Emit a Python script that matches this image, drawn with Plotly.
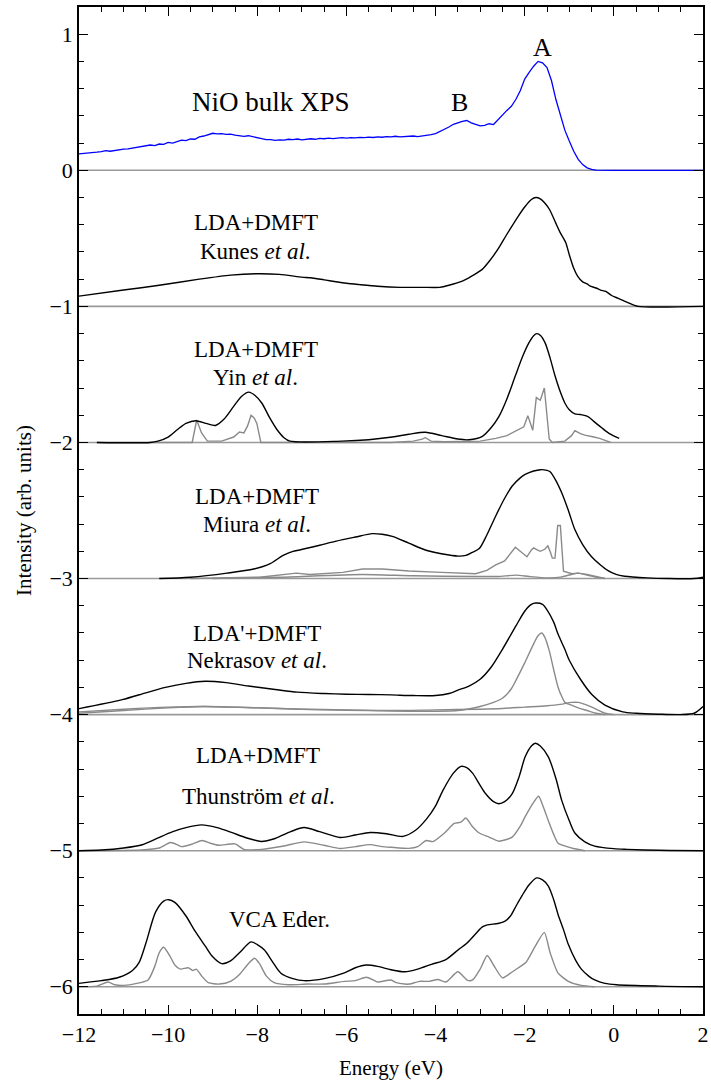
import plotly.graph_objects as go

# ---------------- data (relative intensities, each panel offset by -n) ----------------
offsets = [0, -1, -2, -3, -4, -5, -6]

xps_e = [-12.0, -11.9, -11.8, -11.7, -11.6, -11.5, -11.4, -11.3, -11.2, -11.1,
         -11.0, -10.9, -10.8, -10.7, -10.6, -10.5, -10.4, -10.3, -10.2, -10.1,
         -10.0, -9.9, -9.8, -9.7, -9.6, -9.5, -9.4, -9.3, -9.2, -9.1,
         -9.0, -8.9, -8.8, -8.7, -8.6, -8.5, -8.4, -8.3, -8.2, -8.1,
         -8.0, -7.9, -7.8, -7.7, -7.6, -7.5, -7.4, -7.3, -7.2, -7.1,
         -7.0, -6.9, -6.8, -6.7, -6.6, -6.5, -6.4, -6.3, -6.2, -6.1,
         -6.0, -5.9, -5.8, -5.7, -5.6, -5.5, -5.4, -5.3, -5.2, -5.1,
         -5.0, -4.9, -4.8, -4.7, -4.6, -4.5, -4.4, -4.3, -4.2, -4.1,
         -4.0, -3.9, -3.8, -3.7, -3.6, -3.5, -3.4, -3.3, -3.2, -3.1,
         -3.0, -2.9, -2.8, -2.7, -2.6, -2.5, -2.4, -2.3, -2.2, -2.1,
         -2.0, -1.9, -1.8, -1.7, -1.6, -1.5, -1.4, -1.3, -1.2, -1.1,
         -1.0, -0.9, -0.8, -0.7, -0.6, -0.5, -0.4, -0.3, 0.0, 1.0, 2.0]
xps_i = [0.120, 0.122, 0.128, 0.126, 0.133, 0.137, 0.145, 0.140, 0.146, 0.150,
         0.155, 0.158, 0.164, 0.170, 0.172, 0.180, 0.186, 0.182, 0.193, 0.190,
         0.205, 0.200, 0.213, 0.222, 0.218, 0.230, 0.228, 0.246, 0.252, 0.262,
         0.272, 0.268, 0.270, 0.264, 0.266, 0.258, 0.256, 0.250, 0.254, 0.245,
         0.240, 0.232, 0.225, 0.226, 0.220, 0.224, 0.222, 0.228, 0.226, 0.230,
         0.224, 0.229, 0.232, 0.228, 0.234, 0.232, 0.236, 0.233, 0.237, 0.240,
         0.236, 0.240, 0.238, 0.242, 0.240, 0.244, 0.241, 0.245, 0.243, 0.248,
         0.246, 0.250, 0.245, 0.248, 0.246, 0.252, 0.248, 0.251, 0.255, 0.262,
         0.270, 0.285, 0.298, 0.318, 0.338, 0.352, 0.360, 0.366, 0.348, 0.338,
         0.326, 0.330, 0.342, 0.336, 0.372, 0.405, 0.440, 0.470, 0.520, 0.585,
         0.670, 0.720, 0.765, 0.800, 0.790, 0.755, 0.660, 0.520, 0.400, 0.295,
         0.215, 0.140, 0.080, 0.042, 0.018, 0.006, 0.001, 0.0, 0.0, 0.0, 0.0]

kunes_e = [-12, -11, -10.2, -9.3, -8.6, -8.0, -7.5, -7.0, -6.8, -6.5, -6.0, -5.7, -5.3,
           -4.8, -4.3, -3.9, -3.7, -3.4, -3.2, -2.96, -2.8, -2.6, -2.4, -2.15, -2.0,
           -1.85, -1.75, -1.65, -1.55, -1.44, -1.3, -1.2, -1.08, -1.0, -0.9, -0.81,
           -0.7, -0.6, -0.54, -0.4, -0.3, -0.18, -0.05, 0.09, 0.3, 0.54, 2.0]
kunes_i = [0.075, 0.12, 0.155, 0.20, 0.23, 0.24, 0.235, 0.215, 0.21, 0.195, 0.17, 0.16, 0.148,
           0.14, 0.14, 0.14, 0.155, 0.185, 0.22, 0.27, 0.33, 0.42, 0.53, 0.66, 0.73,
           0.785, 0.80, 0.79, 0.76, 0.71, 0.61, 0.54, 0.47, 0.38, 0.28, 0.22,
           0.18, 0.165, 0.15, 0.135, 0.12, 0.11, 0.08, 0.06, 0.03, 0.0, 0.0]

yin_e = [-11.6, -10.4, -10.23, -10.0, -9.79, -9.6, -9.38, -9.15, -8.94, -8.75, -8.53, -8.35,
         -8.19, -8.05, -7.9, -7.72, -7.56, -7.4, -7.27, -6.1, -5.5, -4.97, -4.6, -4.23,
         -3.86, -3.5, -3.25, -2.95, -2.75, -2.58, -2.4, -2.21, -2.05, -1.91, -1.8, -1.73,
         -1.64, -1.54, -1.43, -1.32, -1.2, -1.1, -1.0, -0.875, -0.75, -0.58, -0.45, -0.28,
         -0.1, 0.12]
yin_i = [0.0, 0.0, 0.01, 0.04, 0.095, 0.14, 0.16, 0.14, 0.125, 0.17, 0.265, 0.34,
         0.37, 0.345, 0.29, 0.18, 0.095, 0.035, 0.01, 0.01, 0.02, 0.04, 0.06, 0.075,
         0.05, 0.025, 0.02, 0.045, 0.11, 0.19, 0.32, 0.49, 0.63, 0.73, 0.785, 0.80,
         0.785, 0.73, 0.62, 0.49, 0.37, 0.29, 0.24, 0.21, 0.205, 0.19, 0.155, 0.11,
         0.065, 0.03]
yin_g_e = [-11.6, -9.46, -9.36, -9.25, -9.12, -8.8, -8.53, -8.4, -8.3, -8.22, -8.14, -8.07,
           -8.01, -7.95, -7.92, -5.0, -4.5, -4.3, -4.23, -4.1, -3.8, -3.0, -2.65, -2.4,
           -2.21, -2.02, -1.93, -1.82, -1.74, -1.65, -1.56, -1.45, -1.38, -1.1, -0.95,
           -0.875, -0.75, -0.65, -0.45, -0.32, -0.15, -0.07]
yin_g_i = [0.0, 0.0, 0.165, 0.07, 0.01, 0.01, 0.04, 0.077, 0.07, 0.12, 0.20, 0.18,
           0.14, 0.05, 0.0, 0.0, 0.01, 0.025, 0.035, 0.01, 0.005, 0.01, 0.03, 0.05,
           0.08, 0.115, 0.197, 0.09, 0.33, 0.31, 0.40, 0.025, 0.0, 0.01, 0.05,
           0.087, 0.065, 0.054, 0.04, 0.03, 0.01, 0.0]

miura_e = [-10.2, -9.5, -8.68, -8.08, -7.71, -7.42, -7.2, -7.05, -6.6, -6.23, -5.8, -5.42,
           -5.2, -4.97, -4.6, -4.23, -3.84, -3.49, -3.32, -3.19, -3.02, -2.85, -2.65, -2.45,
           -2.28, -2.1, -1.99, -1.8, -1.65, -1.5, -1.43, -1.3, -1.17, -1.02, -0.875, -0.7,
           -0.5, -0.3, -0.14, 0.05, 0.24, 0.75, 1.2, 1.8, 2.0]
miura_i = [0.0, 0.01, 0.04, 0.07, 0.11, 0.17, 0.20, 0.21, 0.245, 0.275, 0.305, 0.33,
           0.325, 0.31, 0.26, 0.21, 0.18, 0.165, 0.17, 0.19, 0.22, 0.32, 0.46, 0.59,
           0.68, 0.74, 0.765, 0.79, 0.80, 0.795, 0.785, 0.72, 0.63, 0.50, 0.36, 0.25,
           0.16, 0.10, 0.06, 0.03, 0.017, 0.005, 0.0, 0.0, 0.01]
miura_g1_e = [-9.5, -7.95, -7.12, -6.82, -6.08, -5.64, -5.19, -4.6, -3.86, -3.1, -2.85, -2.65,
              -2.45, -2.3, -2.21, -2.1, -1.95, -1.85, -1.8, -1.72, -1.65, -1.55, -1.48, -1.42,
              -1.38, -1.32, -1.28, -1.26, -1.2, -1.16, -1.13, -0.94, -0.8, -0.6, -0.43, -0.2]
miura_g1_i = [0.0, 0.01, 0.04, 0.03, 0.045, 0.07, 0.07, 0.055, 0.045, 0.035, 0.06, 0.10,
              0.13, 0.19, 0.23, 0.20, 0.16, 0.21, 0.225, 0.21, 0.20, 0.215, 0.24, 0.19,
              0.15, 0.15, 0.30, 0.39, 0.39, 0.20, 0.054, 0.035, 0.04, 0.03, 0.017, 0.0]
miura_g2_e = [-9.0, -7.5, -5.64, -4.5, -3.12, -2.6, -2.2, -1.9, -1.5, -1.2, -0.95, -0.8,
              -0.6, -0.4, -0.2]
miura_g2_i = [0.0, 0.01, 0.03, 0.02, 0.015, 0.015, 0.025, 0.015, 0.005, 0.01, 0.03, 0.04,
              0.025, 0.01, 0.0]

nek_e = [-12, -11.03, -10.5, -10.06, -9.6, -9.17, -8.7, -8.2, -7.6, -7.1, -6.5, -6.0, -5.5,
         -5.0, -4.5, -4.0, -3.7, -3.5, -3.25, -3.0, -2.75, -2.5, -2.2, -2.0, -1.85, -1.75,
         -1.6, -1.5, -1.35, -1.25, -1.1, -1.0, -0.75, -0.5, -0.2, 0.2, 0.5, 1.0, 1.5, 1.8, 2.0]
nek_i = [0.044, 0.11, 0.16, 0.20, 0.23, 0.245, 0.235, 0.21, 0.185, 0.165, 0.155, 0.15, 0.148,
         0.145, 0.14, 0.14, 0.155, 0.18, 0.21, 0.26, 0.35, 0.48, 0.65, 0.76, 0.81, 0.82,
         0.81, 0.77, 0.68, 0.59, 0.48, 0.40, 0.26, 0.15, 0.07, 0.02, 0.01, 0.003, 0.0, 0.01, 0.06]
nek_g1_e = [-12, -11, -10, -9.2, -8.5, -7.5, -6.5, -5.5, -4.5, -3.5, -3.0, -2.7, -2.5, -2.3,
            -2.2, -2.0, -1.8, -1.7, -1.62, -1.55, -1.45, -1.35, -1.25, -1.15, -1.1, -0.95,
            -0.8, -0.6, -0.4, -0.2]
nek_g1_i = [0.01, 0.03, 0.05, 0.06, 0.055, 0.045, 0.035, 0.03, 0.025, 0.03, 0.06, 0.09, 0.12,
            0.19, 0.25, 0.38, 0.52, 0.58, 0.60, 0.57, 0.47, 0.33, 0.20, 0.12, 0.09, 0.07,
            0.05, 0.03, 0.01, 0.0]
nek_g2_e = [-12, -11, -10, -9.2, -8, -7, -6, -5, -4, -3, -2.5, -2, -1.5, -1.2, -0.95, -0.8,
            -0.6, -0.4, -0.2, 0.0]
nek_g2_i = [0.02, 0.04, 0.055, 0.06, 0.05, 0.04, 0.035, 0.03, 0.035, 0.04, 0.045, 0.055,
            0.065, 0.075, 0.09, 0.09, 0.07, 0.04, 0.01, 0.0]

thu_e = [-12, -11.5, -11, -10.58, -10.25, -9.91, -9.6, -9.25, -8.9, -8.58, -8.25, -7.91,
         -7.6, -7.25, -6.95, -6.6, -6.14, -5.8, -5.47, -5.1, -4.73, -4.45, -4.21, -4.0,
         -3.84, -3.6, -3.43, -3.3, -3.17, -3.0, -2.88, -2.7, -2.58, -2.45, -2.28, -2.12,
         -1.99, -1.85, -1.76, -1.65, -1.47, -1.3, -1.17, -1.0, -0.875, -0.65, -0.43, 0.0,
         0.3, 1.0, 2.0]
thu_i = [0.0, 0.005, 0.02, 0.044, 0.09, 0.138, 0.17, 0.19, 0.17, 0.135, 0.095, 0.068,
         0.09, 0.14, 0.17, 0.14, 0.097, 0.115, 0.134, 0.125, 0.105, 0.15, 0.23, 0.33,
         0.44, 0.57, 0.62, 0.61, 0.57, 0.48, 0.42, 0.36, 0.345, 0.36, 0.42, 0.55,
         0.69, 0.77, 0.79, 0.77, 0.69, 0.53, 0.37, 0.22, 0.13, 0.065, 0.034, 0.015,
         0.01, 0.003, 0.0]
thu_g_e = [-12, -10.6, -10.2, -9.95, -9.8, -9.7, -9.45, -9.24, -9.05, -8.87, -8.5, -8.3,
           -7.9, -7.4, -6.95, -6.5, -6.14, -5.8, -5.47, -5.2, -5.0, -4.6, -4.4, -4.21,
           -4.06, -3.8, -3.58, -3.43, -3.32, -3.18, -3.02, -2.8, -2.58, -2.28, -2.1, -1.99,
           -1.85, -1.69, -1.58, -1.47, -1.35, -1.25, -0.95, -0.65]
thu_g_i = [0.0, 0.005, 0.02, 0.06, 0.045, 0.03, 0.05, 0.075, 0.055, 0.04, 0.05, 0.01,
           0.01, 0.035, 0.065, 0.04, 0.016, 0.03, 0.045, 0.03, 0.025, 0.017, 0.03, 0.075,
           0.067, 0.13, 0.20, 0.21, 0.24, 0.18, 0.13, 0.10, 0.07, 0.10, 0.18, 0.25,
           0.33, 0.40, 0.32, 0.22, 0.12, 0.055, 0.02, 0.0]

eder_e = [-12, -11.5, -11.1, -10.8, -10.65, -10.5, -10.28, -10.1, -9.99, -9.85, -9.6, -9.4,
          -9.17, -9.0, -8.8, -8.6, -8.4, -8.14, -8.0, -7.84, -7.65, -7.47, -7.2, -6.95,
          -6.5, -6.06, -5.8, -5.55, -5.3, -5.0, -4.69, -4.4, -4.09, -3.77, -3.48, -3.3,
          -3.1, -2.95, -2.84, -2.6, -2.45, -2.32, -2.2, -2.06, -1.9, -1.73, -1.6, -1.47,
          -1.35, -1.25, -1.13, -1.02, -0.85, -0.73, -0.55, -0.43, -0.2, 0.06, 1.0, 2.0]
eder_i = [0.025, 0.045, 0.07, 0.12, 0.18, 0.32, 0.55, 0.63, 0.64, 0.62, 0.52, 0.41,
          0.30, 0.22, 0.17, 0.19, 0.25, 0.33, 0.31, 0.27, 0.18, 0.10, 0.06, 0.045,
          0.06, 0.10, 0.14, 0.16, 0.15, 0.125, 0.11, 0.13, 0.165, 0.20, 0.275, 0.32,
          0.39, 0.44, 0.455, 0.465, 0.48, 0.52, 0.59, 0.67, 0.75, 0.80, 0.785, 0.74,
          0.64, 0.53, 0.42, 0.31, 0.19, 0.13, 0.075, 0.05, 0.025, 0.015, 0.005, 0.0]
eder_g_e = [-12, -11.6, -11.35, -11.2, -11.0, -10.7, -10.45, -10.3, -10.2, -10.1, -9.95,
            -9.85, -9.73, -9.55, -9.45, -9.37, -9.25, -9.1, -8.85, -8.6, -8.4, -8.2, -8.06,
            -7.95, -7.8, -7.62, -7.3, -6.87, -6.5, -6.05, -5.8, -5.55, -5.4, -5.3, -5.0,
            -4.88, -4.7, -4.58, -4.36, -4.14, -3.95, -3.77, -3.5, -3.28, -3.17, -3.0, -2.84,
            -2.7, -2.5, -2.32, -2.14, -1.97, -1.76, -1.56, -1.43, -1.25, -1.02, -0.73, -0.43]
eder_g_i = [0.0, 0.005, 0.035, 0.015, 0.01, 0.025, 0.05, 0.15, 0.25, 0.29, 0.22,
            0.16, 0.13, 0.14, 0.12, 0.13, 0.08, 0.03, 0.02, 0.04, 0.09, 0.17, 0.21,
            0.17, 0.08, 0.03, 0.015, 0.02, 0.02, 0.04, 0.045, 0.07, 0.05, 0.035, 0.05,
            0.03, 0.02, 0.02, 0.04, 0.04, 0.054, 0.035, 0.11, 0.047, 0.05, 0.13, 0.23,
            0.16, 0.066, 0.10, 0.14, 0.18, 0.30, 0.40, 0.25, 0.10, 0.04, 0.01, 0.0]

x_range = [-12, 2]
y_range = [-6.2, 1.2]
x_ticks = [-12, -10, -8, -6, -4, -2, 0, 2]
y_ticks = [1, 0, -1, -2, -3, -4, -5, -6]

# panel labels: (text, x, y, size) in data coords
labels = [
    ("NiO bulk XPS", -7.70, 0.50, 27),
    ("B", -3.47, 0.50, 26),
    ("A", -1.61, 0.90, 26),
    ("LDA+DMFT", -8.03, -0.385, 23),
    ("Kunes <i>et al</i>.", -8.03, -0.60, 23),
    ("LDA+DMFT", -8.03, -1.316, 23),
    ("Yin <i>et al</i>.", -8.03, -1.52, 23),
    ("LDA+DMFT", -8.01, -2.397, 23),
    ("Miura <i>et al</i>.", -8.01, -2.605, 23),
    ("LDA'+DMFT", -8.01, -3.404, 23),
    ("Nekrasov <i>et al</i>.", -8.01, -3.60, 23),
    ("LDA+DMFT", -7.98, -4.30, 23),
    ("Thunström <i>et al</i>.", -7.98, -4.60, 23),
    ("VCA Eder.", -7.51, -5.505, 23),
]

BLACK = "#000000"
GREY = "#8a8a8a"
BLUE = "#0000ff"
FONT = "Liberation Serif"

fig = go.Figure()

# baselines
for off in offsets:
    fig.add_trace(go.Scatter(x=x_range, y=[off, off], mode="lines",
                             line=dict(color="#9a9a9a", width=1.6), hoverinfo="skip"))


def add(e, vals, off, color, width, smooth=None):
    line = dict(color=color, width=width)
    if smooth:
        line.update(shape="spline", smoothing=smooth)
    fig.add_trace(go.Scatter(x=e, y=[v + off for v in vals], mode="lines",
                             line=line, hoverinfo="skip"))


add(xps_e, xps_i, offsets[0], BLUE, 1.3)

add(kunes_e, kunes_i, offsets[1], BLACK, 1.4, 0.6)

add(yin_g_e, yin_g_i, offsets[2], GREY, 1.4)
add(yin_e, yin_i, offsets[2], BLACK, 1.4, 0.8)

add(miura_g2_e, miura_g2_i, offsets[3], GREY, 1.4, 0.6)
add(miura_g1_e, miura_g1_i, offsets[3], GREY, 1.4)
add(miura_e, miura_i, offsets[3], BLACK, 1.4, 0.8)

add(nek_g2_e, nek_g2_i, offsets[4], GREY, 1.4, 0.8)
add(nek_g1_e, nek_g1_i, offsets[4], GREY, 1.4, 0.8)
add(nek_e, nek_i, offsets[4], BLACK, 1.4, 0.8)

add(thu_g_e, thu_g_i, offsets[5], GREY, 1.4, 0.6)
add(thu_e, thu_i, offsets[5], BLACK, 1.4, 0.8)

add(eder_g_e, eder_g_i, offsets[6], GREY, 1.4, 0.6)
add(eder_e, eder_i, offsets[6], BLACK, 1.4, 0.8)

for text, lx, ly, size in labels:
    fig.add_annotation(x=lx, y=ly, text=text, showarrow=False,
                       font=dict(family=FONT, size=size, color="black"),
                       xanchor="center", yanchor="middle")

axis_common = dict(showline=True, linecolor="black", linewidth=1.5, mirror="allticks",
                   ticks="inside", tickcolor="black", tickwidth=1.2, ticklen=9,
                   showgrid=False, zeroline=False, ticklabeloverflow="allow",
                   tickfont=dict(family=FONT, size=22, color="black"))

fig.update_xaxes(range=x_range, tickvals=x_ticks,
                 title=dict(text="Energy (eV)", standoff=14,
                            font=dict(family=FONT, size=21, color="black")),
                 minor=dict(dtick=0.5, ticks="inside", ticklen=5, tickwidth=1.2,
                            tickcolor="black", showgrid=False),
                 **axis_common)
fig.update_yaxes(range=y_range, tickvals=y_ticks,
                 title=dict(text="Intensity (arb. units)", standoff=12,
                            font=dict(family=FONT, size=21, color="black")),
                 minor=dict(dtick=0.2, ticks="inside", ticklen=5, tickwidth=1.2,
                            tickcolor="black", showgrid=False),
                 **axis_common)

fig.update_layout(width=711, height=1084, showlegend=False,
                  margin=dict(l=79, r=2, t=7, b=70),
                  plot_bgcolor="white", paper_bgcolor="white")

fig.write_html("out.html")
